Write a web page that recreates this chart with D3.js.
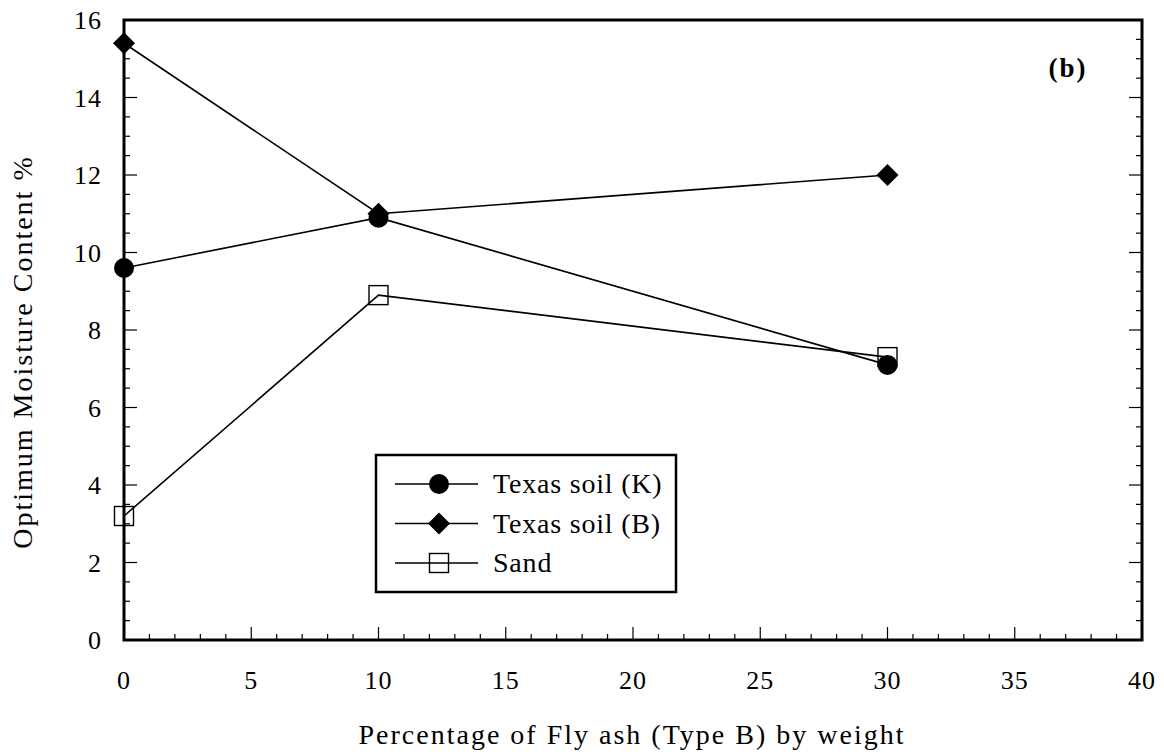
<!DOCTYPE html>
<meta charset="utf-8">
<style>
body { margin: 0; background: #fff; }
text { font-family: "Liberation Serif", "Times New Roman", serif; fill: #000; }
.series path.line { fill: none; stroke: #000; stroke-width: 1.6px; }
</style>
<svg width="1164" height="755"></svg>
<script src="https://d3js.org/d3.v7.min.js"></script>
<script>

var flyAsh = [0, 10, 30];
var texasK = [9.6, 10.9, 7.1];
var texasB = [15.4, 11.0, 12.0];
var sand = [3.2, 8.9, 7.3];

var xTicks = [0, 5, 10, 15, 20, 25, 30, 35, 40];
var yTicks = [0, 2, 4, 6, 8, 10, 12, 14, 16];

var seriesNames = ["Texas soil (K)", "Texas soil (B)", "Sand"];
var seriesSymbols = ["circle", "diamond", "square"];

var svg = d3.select("svg"),
    pLeft = 124, pRight = 1142, pTop = 20, pBottom = 640;

var x = d3.scaleLinear().domain([0, 40]).range([pLeft, pRight]);
var y = d3.scaleLinear().domain([0, 16]).range([pBottom, pTop]);

var series = [texasK, texasB, sand].map(function(vals, i) {
  return {
    name: seriesNames[i],
    symbol: seriesSymbols[i],
    points: flyAsh.map(function(f, j) { return [f, vals[j]]; })
  };
});

// minor + major ticks, all pointing inward
var minorX = d3.range(0, 41, 1), minorY = d3.range(0, 16.01, 0.5);

var g = svg.append("g");

g.selectAll(".mx").data(minorX).enter().append("line")
    .attr("x1", function(d) { return x(d); })
    .attr("x2", function(d) { return x(d); })
    .attr("y1", pBottom)
    .attr("y2", function(d) { return d % 5 == 0 ? pBottom - 13 : pBottom - 6; })
    .attr("stroke", "#000").attr("stroke-width", 1.2);

[pLeft, pRight].forEach(function(px) {
  var dir = px == pLeft ? 1 : -1;
  g.selectAll(null).data(minorY).enter().append("line")
      .attr("y1", function(d) { return y(d); })
      .attr("y2", function(d) { return y(d); })
      .attr("x1", px)
      .attr("x2", function(d) { return px + dir * (d % 2 == 0 ? 13 : 6); })
      .attr("stroke", "#000").attr("stroke-width", 1.2);
});

// frame
g.append("rect")
    .attr("x", pLeft).attr("y", pTop)
    .attr("width", pRight - pLeft).attr("height", pBottom - pTop)
    .attr("fill", "none").attr("stroke", "#000").attr("stroke-width", 3);

// tick labels
g.selectAll(".xl").data(xTicks).enter().append("text")
    .attr("x", function(d) { return x(d); })
    .attr("y", 689)
    .attr("text-anchor", "middle")
    .style("font-size", "26px")
    .style("letter-spacing", "1px")
    .text(function(d) { return d; });

g.selectAll(".yl").data(yTicks).enter().append("text")
    .attr("x", 102)
    .attr("y", function(d) { return y(d) + 9; })
    .attr("text-anchor", "end")
    .style("font-size", "26px")
    .style("letter-spacing", "1px")
    .text(function(d) { return d; });

svg.append("text")
    .attr("x", 632).attr("y", 744)
    .attr("text-anchor", "middle")
    .style("font-size", "28px")
    .style("letter-spacing", "2px")
    .text("Percentage of Fly ash (Type B) by weight");

svg.append("text")
    .attr("transform", "translate(32,352) rotate(-90)")
    .attr("text-anchor", "middle")
    .style("font-size", "28px")
    .style("letter-spacing", "2px")
    .text("Optimum Moisture Content %");

svg.append("text")
    .attr("x", 1068).attr("y", 77)
    .attr("text-anchor", "middle")
    .style("font-size", "27px")
    .style("font-weight", "bold")
    .style("letter-spacing", "2px")
    .text("(b)");

function drawSymbol(sel, sym) {
  if (sym == "circle") {
    sel.append("circle").attr("r", 10).attr("fill", "#000");
  } else if (sym == "diamond") {
    sel.append("path").attr("d", "M0,-11L11,0L0,11L-11,0Z").attr("fill", "#000");
  } else {
    sel.append("rect").attr("x", -9.5).attr("y", -9.5).attr("width", 19).attr("height", 19)
        .attr("fill", "none").attr("stroke", "#000").attr("stroke-width", 1.4);
  }
}

var line = d3.line()
    .x(function(d) { return x(d[0]); })
    .y(function(d) { return y(d[1]); });

var sg = svg.selectAll(".series").data(series).enter().append("g").attr("class", "series");
sg.append("path").attr("class", "line").attr("d", function(d) { return line(d.points); });
sg.each(function(s) {
  d3.select(this).selectAll(".pt").data(s.points).enter().append("g")
      .attr("transform", function(d) { return "translate(" + x(d[0]) + "," + y(d[1]) + ")"; })
      .each(function() { drawSymbol(d3.select(this), s.symbol); });
});

// legend
var lg = svg.append("g");
lg.append("rect")
    .attr("x", 376).attr("y", 455).attr("width", 300).attr("height", 137)
    .attr("fill", "#fff").attr("stroke", "#000").attr("stroke-width", 2.5);

var rows = lg.selectAll(".row").data(series).enter().append("g")
    .attr("transform", function(d, i) { return "translate(0," + (484 + i * 39.5) + ")"; });
rows.append("line").attr("x1", 395).attr("x2", 478).attr("stroke", "#000").attr("stroke-width", 1.6);
rows.append("g").attr("transform", "translate(439,0)")
    .each(function(d) { drawSymbol(d3.select(this), d.symbol); });
rows.append("text")
    .attr("x", 493).attr("y", 9)
    .style("font-size", "28px")
    .style("letter-spacing", "0.8px")
    .text(function(d) { return d.name; });

</script>
